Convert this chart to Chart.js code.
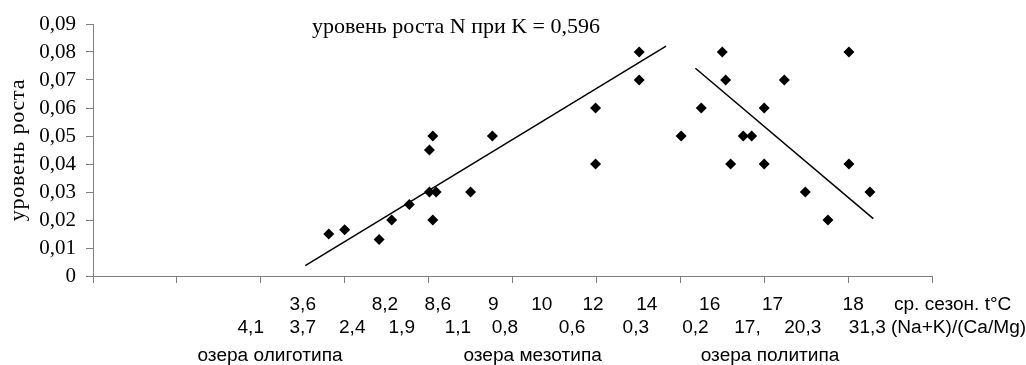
<!DOCTYPE html>
<html>
<head>
<meta charset="utf-8">
<script src="https://cdn.jsdelivr.net/npm/chart.js@4/dist/chart.umd.min.js"></script>
<style>
html,body{margin:0;padding:0;background:#fff;}
#wrap{width:1026px;height:365px;}
</style>
</head>
<body>
<div id="wrap"><canvas id="c" width="1026" height="365"></canvas></div>
<script>
// ---- data ----
const pointX = [2.81, 3.00, 3.41, 3.56, 3.77, 4.01, 4.09, 4.05, 4.01, 4.05, 4.50, 4.76,
                5.99, 5.99, 6.51, 6.51, 7.01, 7.25, 7.50, 7.54, 7.60, 7.75, 7.85, 8.00, 8.00, 8.24, 8.49, 8.76, 9.01, 9.01, 9.26];
const pointY = [0.015, 0.0165, 0.013, 0.020, 0.0255, 0.030, 0.030, 0.020, 0.045, 0.050, 0.030, 0.050,
                0.060, 0.040, 0.080, 0.070, 0.050, 0.060, 0.080, 0.070, 0.040, 0.050, 0.050, 0.060, 0.040, 0.070, 0.030, 0.020, 0.080, 0.040, 0.030];
const trend1X = [2.53, 6.83];
const trend1Y = [0.0037, 0.0821];
const trend2X = [7.18, 9.30];
const trend2Y = [0.0742, 0.0205];

const yTicks = [0, 0.01, 0.02, 0.03, 0.04, 0.05, 0.06, 0.07, 0.08, 0.09];
const yTickLabels = ['0', '0,01', '0,02', '0,03', '0,04', '0,05', '0,06', '0,07', '0,08', '0,09'];

const tempLabels = ['3,6', '8,2', '8,6', '9', '10', '12', '14', '16', '17', '18'];
const tempPos    = [2.50, 3.48, 4.11, 4.77, 5.35, 5.96, 6.60, 7.35, 8.10, 9.06];
const tempTitle  = 'ср. сезон. t°C';
const ratioLabels = ['4,1', '3,7', '2,4', '1,9', '1,1', '0,8', '0,6', '0,3', '0,2', '17,', '20,3', '31,3'];
const ratioPos    = [1.88, 2.50, 3.09, 3.68, 4.35, 4.91, 5.71, 6.47, 7.18, 7.80, 8.46, 9.23];
const ratioTitle  = '(Na+K)/(Ca/Mg)';
const groupLabels = ['озера олиготипа', 'озера мезотипа', 'озера политипа'];
const groupPos    = [2.11, 5.24, 8.07];
const rowTitlePos = 9.57;
const chartTitle = 'уровень роста N при K = 0,596';
const yTitle = 'уровень роста';

const pts = pointX.map((x, i) => ({x, y: pointY[i]}));
const t1 = trend1X.map((x, i) => ({x, y: trend1Y[i]}));
const t2 = trend2X.map((x, i) => ({x, y: trend2Y[i]}));

const SANS = '18px "Liberation Sans", Arial, sans-serif';
const SERIF = '"Liberation Serif", "Times New Roman", serif';
const STRETCH = 1.06;

function stretchText(ctx, t, x, y, align) {
  const w = ctx.measureText(t).width * STRETCH;
  let left = x;
  if (align === 'center') left = x - w / 2;
  ctx.save();
  ctx.translate(left, y);
  ctx.scale(STRETCH, 1);
  ctx.textAlign = 'left';
  ctx.fillText(t, 0, 0);
  ctx.restore();
}

const labelsPlugin = {
  id: 'labels',
  afterDraw(chart) {
    const ctx = chart.ctx;
    const xs = chart.scales.x;
    const area = chart.chartArea;
    const base = area.bottom;
    ctx.save();
    ctx.fillStyle = '#000';
    ctx.textBaseline = 'middle';
    ctx.font = SANS;
    tempLabels.forEach((t, i) => stretchText(ctx, t, xs.getPixelForValue(tempPos[i]), base + 29, 'center'));
    ratioLabels.forEach((t, i) => stretchText(ctx, t, xs.getPixelForValue(ratioPos[i]), base + 52, 'center'));
    groupLabels.forEach((t, i) => stretchText(ctx, t, xs.getPixelForValue(groupPos[i]), base + 80, 'center'));
    stretchText(ctx, tempTitle, xs.getPixelForValue(rowTitlePos) - 2, base + 29, 'left');
    stretchText(ctx, ratioTitle, xs.getPixelForValue(rowTitlePos) - 5, base + 52, 'left');
    // title inside chart
    ctx.font = '22px ' + SERIF;
    ctx.textAlign = 'left';
    ctx.textBaseline = 'alphabetic';
    ctx.fillText(chartTitle, area.left + 219, 33);
    // y-axis title
    ctx.save();
    ctx.translate(18, (area.top + area.bottom) / 2);
    ctx.rotate(-Math.PI / 2);
    ctx.font = '22px ' + SERIF;
    ctx.letterSpacing = '0.8px';
    ctx.textAlign = 'center';
    ctx.textBaseline = 'middle';
    ctx.fillText(yTitle, 0, 0);
    ctx.restore();
    ctx.restore();
  }
};

new Chart(document.getElementById('c'), {
  type: 'scatter',
  data: {
    datasets: [
      {data: pts, pointStyle: 'rectRot', pointRadius: 5.5, pointHoverRadius: 5.5,
       backgroundColor: '#000', borderColor: '#000', borderWidth: 0, order: 1},
      {type: 'line', data: t1, showLine: true, pointRadius: 0, borderColor: '#000', borderWidth: 1.5, fill: false, order: 2},
      {type: 'line', data: t2, showLine: true, pointRadius: 0, borderColor: '#000', borderWidth: 1.5, fill: false, order: 2}
    ]
  },
  options: {
    responsive: false,
    animation: false,
    events: [],
    layout: {padding: {top: 24, right: 94, left: 0, bottom: 0}},
    plugins: {legend: {display: false}, tooltip: {enabled: false}},
    scales: {
      x: {
        type: 'linear', min: 0, max: 10,
        ticks: {stepSize: 1, callback: () => '', padding: 0},
        grid: {drawOnChartArea: false, drawTicks: true, tickLength: 7, color: '#808080'},
        border: {display: true, color: '#808080', width: 1},
        afterFit(s) { s.height = 89; }
      },
      y: {
        type: 'linear', min: 0, max: 0.09,
        afterBuildTicks(s) { s.ticks = yTicks.map(v => ({value: v})); },
        ticks: {autoSkip: false, padding: 10, color: '#000',
                font: {family: SERIF, size: 21},
                callback: (v, i) => yTickLabels[i]},
        grid: {drawOnChartArea: false, drawTicks: true, tickLength: 7, color: '#808080'},
        border: {display: true, color: '#808080', width: 1},
        afterFit(s) { s.width = 93; }
      }
    }
  },
  plugins: [labelsPlugin]
});
</script>
</body>
</html>
